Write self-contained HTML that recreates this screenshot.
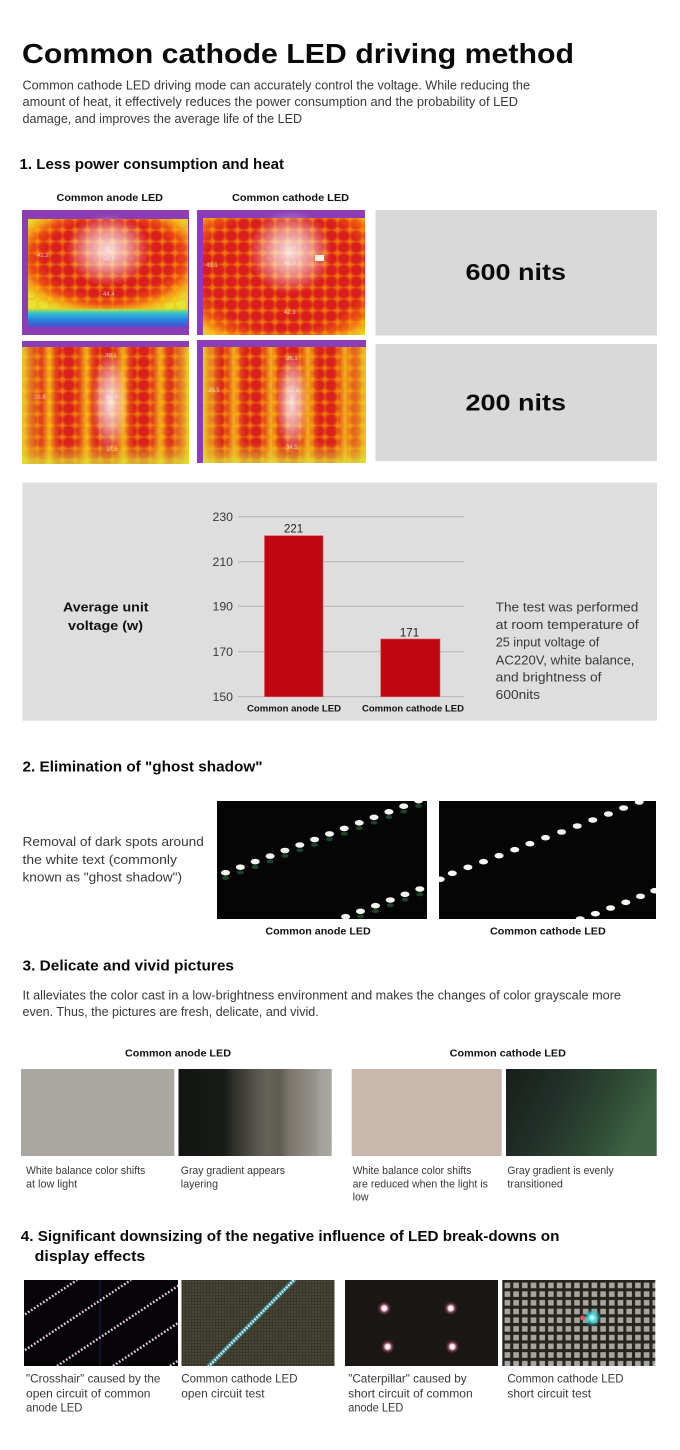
<!DOCTYPE html>
<html><head><meta charset="utf-8">
<style>
html,body{margin:0;padding:0;background:#fff;width:680px;height:1450px;overflow:hidden}
svg{display:block}
text{font-family:"Liberation Sans",sans-serif}
.h{font-weight:bold;fill:#0a0a0a}
.t{fill:#383838}
.b{font-weight:bold;fill:#111}
</style></head><body>
<svg width="680" height="1450" viewBox="0 0 680 1450" xmlns="http://www.w3.org/2000/svg">
<defs>
  <radialGradient id="heatA" cx="0.5" cy="0.42" r="0.64">
    <stop offset="0" stop-color="#dc1c1c"/><stop offset="0.62" stop-color="#d81e1e"/>
    <stop offset="0.76" stop-color="#ea4816"/><stop offset="0.88" stop-color="#f4a81c"/>
    <stop offset="1" stop-color="#e6e432"/>
  </radialGradient>
  <radialGradient id="heatB" cx="0.5" cy="0.45" r="0.74">
    <stop offset="0" stop-color="#dc1c1c"/><stop offset="0.68" stop-color="#d81e1e"/>
    <stop offset="0.82" stop-color="#ec5614"/><stop offset="0.93" stop-color="#f4b820"/>
    <stop offset="1" stop-color="#d8e840"/>
  </radialGradient>
  <radialGradient id="cell" cx="0.5" cy="0.5" r="0.6">
    <stop offset="0" stop-color="#ff0000" stop-opacity="0"/>
    <stop offset="0.55" stop-color="#ff6000" stop-opacity="0"/>
    <stop offset="0.8" stop-color="#ffa000" stop-opacity="0.3"/>
    <stop offset="1" stop-color="#ffd000" stop-opacity="0.5"/>
  </radialGradient>
  <pattern id="gridp" patternUnits="userSpaceOnUse" width="12.5" height="11.5">
    <rect width="12.5" height="11.5" fill="url(#cell)"/>
  </pattern>
  <radialGradient id="wblob" cx="0.5" cy="0.5" r="0.5">
    <stop offset="0" stop-color="#fff" stop-opacity="0.85"/>
    <stop offset="0.5" stop-color="#fff" stop-opacity="0.5"/>
    <stop offset="1" stop-color="#fff" stop-opacity="0"/>
  </radialGradient>
  <linearGradient id="blueband" x1="0" y1="0" x2="0" y2="1">
    <stop offset="0" stop-color="#b8e040"/><stop offset="0.25" stop-color="#30c0d0"/>
    <stop offset="0.6" stop-color="#2a80e0"/><stop offset="1" stop-color="#4a50c8"/>
  </linearGradient>
  <linearGradient id="stripeg" x1="0" y1="0" x2="1" y2="0">
    <stop offset="0" stop-color="#f0b020"/><stop offset="0.18" stop-color="#e2441c"/>
    <stop offset="0.32" stop-color="#d8201c"/><stop offset="0.68" stop-color="#d8201c"/>
    <stop offset="0.82" stop-color="#e2441c"/><stop offset="1" stop-color="#f0b020"/>
  </linearGradient>
  <pattern id="stripes" patternUnits="userSpaceOnUse" x="12" y="0" width="37" height="200">
    <rect width="37" height="200" fill="url(#stripeg)"/>
  </pattern>
  <linearGradient id="edgesY" x1="0" y1="0" x2="1" y2="0">
    <stop offset="0" stop-color="#f0e030" stop-opacity="0.85"/>
    <stop offset="0.12" stop-color="#f0c020" stop-opacity="0"/>
    <stop offset="0.88" stop-color="#f0c020" stop-opacity="0"/>
    <stop offset="1" stop-color="#f0e030" stop-opacity="0.85"/>
  </linearGradient>
  <linearGradient id="bottomY" x1="0" y1="0" x2="0" y2="1">
    <stop offset="0" stop-color="#f0d020" stop-opacity="0"/>
    <stop offset="0.82" stop-color="#f0d020" stop-opacity="0"/>
    <stop offset="1" stop-color="#d8ec40" stop-opacity="0.7"/>
  </linearGradient>
  <linearGradient id="grayband" x1="0" y1="0" x2="1" y2="0">
    <stop offset="0" stop-color="#121511"/><stop offset="0.3" stop-color="#181b16"/>
    <stop offset="0.36" stop-color="#30312b"/><stop offset="0.42" stop-color="#3e3d36"/>
    <stop offset="0.5" stop-color="#55534b"/><stop offset="0.58" stop-color="#66625a"/>
    <stop offset="0.66" stop-color="#5e5b53"/><stop offset="0.72" stop-color="#7a766e"/>
    <stop offset="0.82" stop-color="#8a867e"/><stop offset="0.9" stop-color="#989590"/>
    <stop offset="0.93" stop-color="#a6a29c"/><stop offset="1" stop-color="#a8a49e"/>
  </linearGradient>
  <linearGradient id="greeng" x1="0" y1="0" x2="1" y2="0.3">
    <stop offset="0" stop-color="#191d19"/><stop offset="0.4" stop-color="#22302a"/>
    <stop offset="0.75" stop-color="#2e4a34"/><stop offset="1" stop-color="#3e6242"/>
  </linearGradient>
  <pattern id="olivegrid" patternUnits="userSpaceOnUse" width="3" height="3">
    <rect width="3" height="3" fill="#39362a"/>
    <rect width="2" height="2" fill="#4a4636"/>
  </pattern>
  <pattern id="sqgrid" patternUnits="userSpaceOnUse" x="503" y="1281" width="8.7" height="8.7">
    <rect width="8.7" height="8.7" fill="#26241f"/>
    <rect x="1.6" y="1.6" width="5.6" height="5.6" fill="#a7a59d"/>
  </pattern>
  <radialGradient id="pglow" cx="0.5" cy="0.5" r="0.5">
    <stop offset="0" stop-color="#fff"/><stop offset="0.35" stop-color="#f8dce8"/>
    <stop offset="0.6" stop-color="#d07090" stop-opacity="0.5"/>
    <stop offset="1" stop-color="#a03050" stop-opacity="0"/>
  </radialGradient>
  <radialGradient id="cglow" cx="0.5" cy="0.5" r="0.5">
    <stop offset="0" stop-color="#f0ffff"/><stop offset="0.4" stop-color="#50e0e0"/>
    <stop offset="1" stop-color="#20a0b0" stop-opacity="0"/>
  </radialGradient>
  <clipPath id="cg1"><rect x="217" y="801" width="210" height="118"/></clipPath>
  <clipPath id="cg2"><rect x="439" y="801" width="217" height="118"/></clipPath>
  <clipPath id="c41"><rect x="24" y="1280" width="154" height="86"/></clipPath>
  <clipPath id="c42"><rect x="181.5" y="1280" width="153" height="86"/></clipPath>
</defs>

<!-- Title -->
<text class="h" x="22" y="63" font-size="28" textLength="552" lengthAdjust="spacingAndGlyphs">Common cathode LED driving method</text>
<text class="t" x="22.5" y="89.5" font-size="12.5" textLength="507.5" lengthAdjust="spacingAndGlyphs">Common cathode LED driving mode can accurately control the voltage. While reducing the</text>
<text class="t" x="22.5" y="106.2" font-size="12.5" textLength="495.5" lengthAdjust="spacingAndGlyphs">amount of heat, it effectively reduces the power consumption and the probability of LED</text>
<text class="t" x="22.5" y="122.9" font-size="12.5" textLength="279.5" lengthAdjust="spacingAndGlyphs">damage, and improves the average life of the LED</text>

<!-- Section 1 -->
<text class="h" x="19.5" y="169" font-size="15" textLength="264.5" lengthAdjust="spacingAndGlyphs">1. Less power consumption and heat</text>
<text class="b" x="56.5" y="201" font-size="10" textLength="106.5" lengthAdjust="spacingAndGlyphs">Common anode LED</text>
<text class="b" x="232" y="201" font-size="10" textLength="117" lengthAdjust="spacingAndGlyphs">Common cathode LED</text>

<!-- Thermal A -->
<rect x="22" y="210" width="167" height="125" fill="#8c3cb4"/>
<rect x="28" y="219" width="160" height="93" fill="url(#heatA)"/>
<rect x="28" y="219" width="160" height="93" fill="url(#gridp)"/>
<ellipse cx="108" cy="250" rx="42" ry="36" fill="url(#wblob)"/>
<rect x="28" y="309" width="160" height="18" fill="url(#blueband)"/>
<g font-size="6" fill="#f0f0f0" opacity="0.7"><text x="103" y="260">52.9</text><text x="103" y="296">44.4</text><text x="37" y="257">42.2</text></g>

<!-- Thermal B -->
<rect x="197" y="210" width="168" height="125" fill="#8c3cb4"/>
<rect x="203" y="218" width="162" height="117" fill="url(#heatB)"/>
<rect x="203" y="218" width="162" height="117" fill="url(#gridp)"/>
<ellipse cx="290" cy="252" rx="42" ry="42" fill="url(#wblob)"/>
<rect x="315" y="255" width="9" height="6" fill="#f4f0e0"/>
<g font-size="6" fill="#f0f0f0" opacity="0.7"><text x="284" y="265">46.9</text><text x="284" y="314">42.9</text><text x="206" y="267">43.1</text></g>

<!-- Thermal C -->
<rect x="22" y="341" width="167" height="123" fill="#8c3cb4"/>
<rect x="22" y="347" width="167" height="117" fill="url(#stripes)"/>
<rect x="22" y="347" width="167" height="117" fill="url(#gridp)"/>
<rect x="22" y="347" width="167" height="117" fill="url(#edgesY)"/>
<rect x="22" y="347" width="167" height="117" fill="url(#bottomY)"/>
<ellipse cx="110" cy="402" rx="18" ry="52" fill="url(#wblob)"/>
<g font-size="6" fill="#f0f0f0" opacity="0.7"><text x="105" y="357">39.1</text><text x="106" y="399">41.6</text><text x="34" y="399">38.8</text><text x="106" y="451">37.5</text></g>

<!-- Thermal D -->
<rect x="197" y="340" width="169" height="123" fill="#8c3cb4"/>
<rect x="203" y="347" width="163" height="116" fill="url(#stripes)"/>
<rect x="203" y="347" width="163" height="116" fill="url(#gridp)"/>
<rect x="203" y="347" width="163" height="116" fill="url(#edgesY)"/>
<rect x="203" y="347" width="163" height="116" fill="url(#bottomY)"/>
<ellipse cx="292" cy="402" rx="16" ry="52" fill="url(#wblob)"/>
<g font-size="6" fill="#f0f0f0" opacity="0.7"><text x="286" y="360">36.1</text><text x="287" y="392">37.1</text><text x="208" y="392">35.5</text><text x="286" y="449">34.5</text></g>

<!-- Gray boxes -->
<rect x="375.5" y="210" width="281.5" height="125.5" fill="#d9d9d9"/>
<rect x="375.5" y="344" width="281.5" height="117" fill="#d9d9d9"/>
<text class="h" x="465.5" y="280" font-size="23" textLength="100.5" lengthAdjust="spacingAndGlyphs">600 nits</text>
<text class="h" x="465.5" y="410.5" font-size="23" textLength="100.5" lengthAdjust="spacingAndGlyphs">200 nits</text>

<!-- Chart box -->
<rect x="22.5" y="482.7" width="634.5" height="238" fill="#dedede"/>
<g stroke="#b3b3b3" stroke-width="1">
  <line x1="238" y1="516.7" x2="464" y2="516.7"/>
  <line x1="238" y1="561.7" x2="464" y2="561.7"/>
  <line x1="238" y1="606.3" x2="464" y2="606.3"/>
  <line x1="238" y1="651.7" x2="464" y2="651.7"/>
  <line x1="238" y1="696.7" x2="464" y2="696.7"/>
</g>
<g class="t" font-size="12" fill="#333">
  <text x="212.5" y="521" textLength="20.5" lengthAdjust="spacingAndGlyphs">230</text>
  <text x="212.5" y="566" textLength="20.5" lengthAdjust="spacingAndGlyphs">210</text>
  <text x="212.5" y="610.5" textLength="20.5" lengthAdjust="spacingAndGlyphs">190</text>
  <text x="212.5" y="656" textLength="20.5" lengthAdjust="spacingAndGlyphs">170</text>
  <text x="212.5" y="701" textLength="20.5" lengthAdjust="spacingAndGlyphs">150</text>
</g>
<rect x="264.5" y="535.7" width="58.5" height="161" fill="#bf0712" stroke="#e05058" stroke-width="0.6"/>
<rect x="380.7" y="639" width="59.3" height="57.7" fill="#bf0712" stroke="#e05058" stroke-width="0.6"/>
<text x="293.6" y="532.5" font-size="11.5" fill="#222" text-anchor="middle">221</text>
<text x="409.5" y="636.5" font-size="11.5" fill="#222" text-anchor="middle">171</text>
<text class="b" x="247" y="711.5" font-size="9.5" textLength="94" lengthAdjust="spacingAndGlyphs">Common anode LED</text>
<text class="b" x="362" y="711.5" font-size="9.5" textLength="102" lengthAdjust="spacingAndGlyphs">Common cathode LED</text>
<text class="b" x="63" y="611.5" font-size="13" textLength="85.5" lengthAdjust="spacingAndGlyphs">Average unit</text>
<text class="b" x="68" y="630" font-size="13" textLength="75" lengthAdjust="spacingAndGlyphs">voltage (w)</text>
<g class="t" font-size="13">
  <text x="495.7" y="611.5" textLength="142.6" lengthAdjust="spacingAndGlyphs">The test was performed</text>
  <text x="495.7" y="629" textLength="143" lengthAdjust="spacingAndGlyphs">at room temperature of</text>
  <text x="495.7" y="646.5" textLength="103.6" lengthAdjust="spacingAndGlyphs">25 input voltage of</text>
  <text x="495.7" y="664.5" textLength="138.7" lengthAdjust="spacingAndGlyphs">AC220V, white balance,</text>
  <text x="495.7" y="681.5" textLength="105.8" lengthAdjust="spacingAndGlyphs">and brightness of</text>
  <text x="495.7" y="699" textLength="44.3" lengthAdjust="spacingAndGlyphs">600nits</text>
</g>

<!-- Section 2 -->
<text class="h" x="22.5" y="771.7" font-size="14.5" textLength="240" lengthAdjust="spacingAndGlyphs">2. Elimination of "ghost shadow"</text>
<g class="t" font-size="13">
  <text x="22.5" y="846" textLength="181.3" lengthAdjust="spacingAndGlyphs">Removal of dark spots around</text>
  <text x="22.5" y="864" textLength="154.5" lengthAdjust="spacingAndGlyphs">the white text (commonly</text>
  <text x="22.5" y="881.7" textLength="159.5" lengthAdjust="spacingAndGlyphs">known as "ghost shadow")</text>
</g>
<rect x="217" y="801" width="210" height="118" fill="#050505"/>
<rect x="439" y="801" width="217" height="118" fill="#050505"/>
<g clip-path="url(#cg1)">
  <g fill="#1f5030" opacity="0.85">
    <ellipse cx="225.5" cy="878" rx="3.5" ry="2"/><ellipse cx="240.4" cy="872.5" rx="3.5" ry="2"/><ellipse cx="255.2" cy="867" rx="3.5" ry="2"/><ellipse cx="270.1" cy="861.4" rx="3.5" ry="2"/><ellipse cx="284.9" cy="855.8" rx="3.5" ry="2"/><ellipse cx="299.8" cy="850.3" rx="3.5" ry="2"/><ellipse cx="314.6" cy="844.8" rx="3.5" ry="2"/><ellipse cx="329.5" cy="839.2" rx="3.5" ry="2"/><ellipse cx="344.3" cy="833.7" rx="3.5" ry="2"/><ellipse cx="359.2" cy="828.1" rx="3.5" ry="2"/><ellipse cx="374" cy="822.6" rx="3.5" ry="2"/><ellipse cx="388.9" cy="817" rx="3.5" ry="2"/><ellipse cx="403.7" cy="811.5" rx="3.5" ry="2"/><ellipse cx="418.6" cy="806" rx="3.5" ry="2"/>
    <ellipse cx="360.5" cy="916.5" rx="3.5" ry="2"/><ellipse cx="375.5" cy="911" rx="3.5" ry="2"/><ellipse cx="390.3" cy="905.3" rx="3.5" ry="2"/><ellipse cx="405" cy="899.6" rx="3.5" ry="2"/><ellipse cx="419.8" cy="894.3" rx="3.5" ry="2"/>
  </g>
  <g fill="#f4f4f0">
    <ellipse cx="225.5" cy="872.7" rx="4.5" ry="2.8"/><ellipse cx="240.4" cy="867.2" rx="4.5" ry="2.8"/><ellipse cx="255.2" cy="861.6" rx="4.5" ry="2.8"/><ellipse cx="270.1" cy="856.1" rx="4.5" ry="2.8"/><ellipse cx="284.9" cy="850.5" rx="4.5" ry="2.8"/><ellipse cx="299.8" cy="845" rx="4.5" ry="2.8"/><ellipse cx="314.6" cy="839.5" rx="4.5" ry="2.8"/><ellipse cx="329.5" cy="833.9" rx="4.5" ry="2.8"/><ellipse cx="344.3" cy="828.4" rx="4.5" ry="2.8"/><ellipse cx="359.2" cy="822.8" rx="4.5" ry="2.8"/><ellipse cx="374" cy="817.3" rx="4.5" ry="2.8"/><ellipse cx="388.9" cy="811.8" rx="4.5" ry="2.8"/><ellipse cx="403.7" cy="806.2" rx="4.5" ry="2.8"/><ellipse cx="418.6" cy="800.7" rx="4.5" ry="2.8"/>
    <ellipse cx="345.6" cy="916.7" rx="4.5" ry="2.8"/><ellipse cx="360.5" cy="911.3" rx="4.5" ry="2.8"/><ellipse cx="375.5" cy="905.7" rx="4.5" ry="2.8"/><ellipse cx="390.3" cy="900" rx="4.5" ry="2.8"/><ellipse cx="405" cy="894.3" rx="4.5" ry="2.8"/><ellipse cx="419.8" cy="889" rx="4.5" ry="2.8"/>
  </g>
</g>
<g clip-path="url(#cg2)" fill="#f6f6f2">
  <ellipse cx="440.2" cy="879.3" rx="4.5" ry="2.8"/><ellipse cx="452.3" cy="873.3" rx="4.5" ry="2.8"/><ellipse cx="467.9" cy="867.3" rx="4.5" ry="2.8"/><ellipse cx="483.5" cy="861.7" rx="4.5" ry="2.8"/><ellipse cx="499.1" cy="855.7" rx="4.5" ry="2.8"/><ellipse cx="514.7" cy="849.7" rx="4.5" ry="2.8"/><ellipse cx="529.9" cy="843.7" rx="4.5" ry="2.8"/><ellipse cx="545.5" cy="837.7" rx="4.5" ry="2.8"/><ellipse cx="561.6" cy="832" rx="4.5" ry="2.8"/><ellipse cx="577.2" cy="826" rx="4.5" ry="2.8"/><ellipse cx="592.8" cy="820" rx="4.5" ry="2.8"/><ellipse cx="608.4" cy="814" rx="4.5" ry="2.8"/><ellipse cx="623.6" cy="808" rx="4.5" ry="2.8"/><ellipse cx="639.2" cy="802" rx="4.5" ry="2.8"/>
  <ellipse cx="580.2" cy="919" rx="4.5" ry="2.8"/><ellipse cx="595.4" cy="913.7" rx="4.5" ry="2.8"/><ellipse cx="610.6" cy="908" rx="4.5" ry="2.8"/><ellipse cx="625.8" cy="902.3" rx="4.5" ry="2.8"/><ellipse cx="640.5" cy="896.3" rx="4.5" ry="2.8"/><ellipse cx="654.8" cy="890.7" rx="4.5" ry="2.8"/>
</g>
<text class="b" x="265.4" y="934.3" font-size="10.5" textLength="105.4" lengthAdjust="spacingAndGlyphs">Common anode LED</text>
<text class="b" x="490" y="934.3" font-size="10.5" textLength="115.8" lengthAdjust="spacingAndGlyphs">Common cathode LED</text>

<!-- Section 3 -->
<text class="h" x="22.5" y="970.7" font-size="14.5" textLength="211.5" lengthAdjust="spacingAndGlyphs">3. Delicate and vivid pictures</text>
<text class="t" x="22.5" y="999.3" font-size="12.5" textLength="598.5" lengthAdjust="spacingAndGlyphs">It alleviates the color cast in a low-brightness environment and makes the changes of color grayscale more</text>
<text class="t" x="22.5" y="1016" font-size="12.5" textLength="296.2" lengthAdjust="spacingAndGlyphs">even. Thus, the pictures are fresh, delicate, and vivid.</text>
<text class="b" x="125" y="1056.7" font-size="10.5" textLength="106" lengthAdjust="spacingAndGlyphs">Common anode LED</text>
<text class="b" x="449.7" y="1056.7" font-size="10.5" textLength="116.3" lengthAdjust="spacingAndGlyphs">Common cathode LED</text>
<rect x="21" y="1069" width="153.3" height="87" fill="#aaa7a1"/>
<rect x="178.5" y="1069" width="153.2" height="87" fill="url(#grayband)"/>
<rect x="351.7" y="1069" width="150" height="87" fill="#c8b7aa"/>
<rect x="506" y="1069" width="150.7" height="87" fill="url(#greeng)"/>
<g class="t" font-size="11">
  <text x="26" y="1174" textLength="119.3" lengthAdjust="spacingAndGlyphs">White balance color shifts</text>
  <text x="26" y="1187.7" textLength="51.2" lengthAdjust="spacingAndGlyphs">at low light</text>
  <text x="180.8" y="1174" textLength="104.2" lengthAdjust="spacingAndGlyphs">Gray gradient appears</text>
  <text x="180.8" y="1187.7" textLength="37.2" lengthAdjust="spacingAndGlyphs">layering</text>
  <text x="352.6" y="1174" textLength="118.8" lengthAdjust="spacingAndGlyphs">White balance color shifts</text>
  <text x="352.6" y="1187.7" textLength="135.3" lengthAdjust="spacingAndGlyphs">are reduced when the light is</text>
  <text x="352.6" y="1200.7" textLength="16" lengthAdjust="spacingAndGlyphs">low</text>
  <text x="507.4" y="1174" textLength="106.2" lengthAdjust="spacingAndGlyphs">Gray gradient is evenly</text>
  <text x="507.4" y="1187.7" textLength="55.5" lengthAdjust="spacingAndGlyphs">transitioned</text>
</g>

<!-- Section 4 -->
<text class="h" x="20.8" y="1241" font-size="14.5" textLength="538.6" lengthAdjust="spacingAndGlyphs">4. Significant downsizing of the negative influence of LED break-downs on</text>
<text class="h" x="34.7" y="1261" font-size="14.5" textLength="110.6" lengthAdjust="spacingAndGlyphs">display  effects</text>

<rect x="24" y="1280" width="154" height="86" fill="#060406"/>
<g clip-path="url(#c41)">
  <line x1="100" y1="1280" x2="100" y2="1366" stroke="#1c2244" stroke-width="1"/>
  <g stroke="#e8cce8" stroke-width="2.4" stroke-dasharray="1.7 1.9">
    <line x1="-53" y1="1366" x2="77" y2="1280"/>
    <line x1="1" y1="1366" x2="131" y2="1280"/>
    <line x1="57" y1="1366" x2="187" y2="1280"/>
    <line x1="113" y1="1366" x2="243" y2="1280"/>
    <line x1="170" y1="1366" x2="300" y2="1280"/>
  </g>
</g>
<rect x="181.5" y="1280" width="153" height="86" fill="url(#olivegrid)"/>
<g clip-path="url(#c42)">
  <line x1="208" y1="1367" x2="295" y2="1279" stroke="#3a8ea8" stroke-width="5" opacity="0.6"/>
  <line x1="208" y1="1367" x2="295" y2="1279" stroke="#b4ecf4" stroke-width="2.6" stroke-dasharray="2 1"/>
</g>
<rect x="345" y="1280" width="153" height="86" fill="#1b1715"/>
<circle cx="384.3" cy="1308.3" r="7" fill="url(#pglow)"/>
<circle cx="450.7" cy="1308.3" r="7" fill="url(#pglow)"/>
<circle cx="387.7" cy="1346.7" r="7" fill="url(#pglow)"/>
<circle cx="452.3" cy="1346.7" r="7" fill="url(#pglow)"/>
<rect x="502.3" y="1280" width="153" height="86" fill="url(#sqgrid)"/>
<circle cx="582.7" cy="1318" r="2.5" fill="#e05858"/>
<circle cx="592.3" cy="1317.7" r="9" fill="url(#cglow)"/>

<g class="t" font-size="12">
  <text x="26" y="1382.7" textLength="134.4" lengthAdjust="spacingAndGlyphs">"Crosshair" caused by the</text>
  <text x="26" y="1397.3" textLength="124.5" lengthAdjust="spacingAndGlyphs">open circuit of common</text>
  <text x="26" y="1411.7" textLength="56.4" lengthAdjust="spacingAndGlyphs">anode LED</text>
  <text x="181.3" y="1382.7" textLength="116.2" lengthAdjust="spacingAndGlyphs">Common cathode LED</text>
  <text x="181.3" y="1397.3" textLength="83.2" lengthAdjust="spacingAndGlyphs">open circuit test</text>
  <text x="348.2" y="1382.7" textLength="118.4" lengthAdjust="spacingAndGlyphs">"Caterpillar" caused by</text>
  <text x="348.2" y="1397.3" textLength="124.5" lengthAdjust="spacingAndGlyphs">short circuit of common</text>
  <text x="348.2" y="1411.7" textLength="55.1" lengthAdjust="spacingAndGlyphs">anode LED</text>
  <text x="507.4" y="1382.7" textLength="116.2" lengthAdjust="spacingAndGlyphs">Common cathode LED</text>
  <text x="507.4" y="1397.3" textLength="83.7" lengthAdjust="spacingAndGlyphs">short circuit test</text>
</g>
</svg>
</body></html>
